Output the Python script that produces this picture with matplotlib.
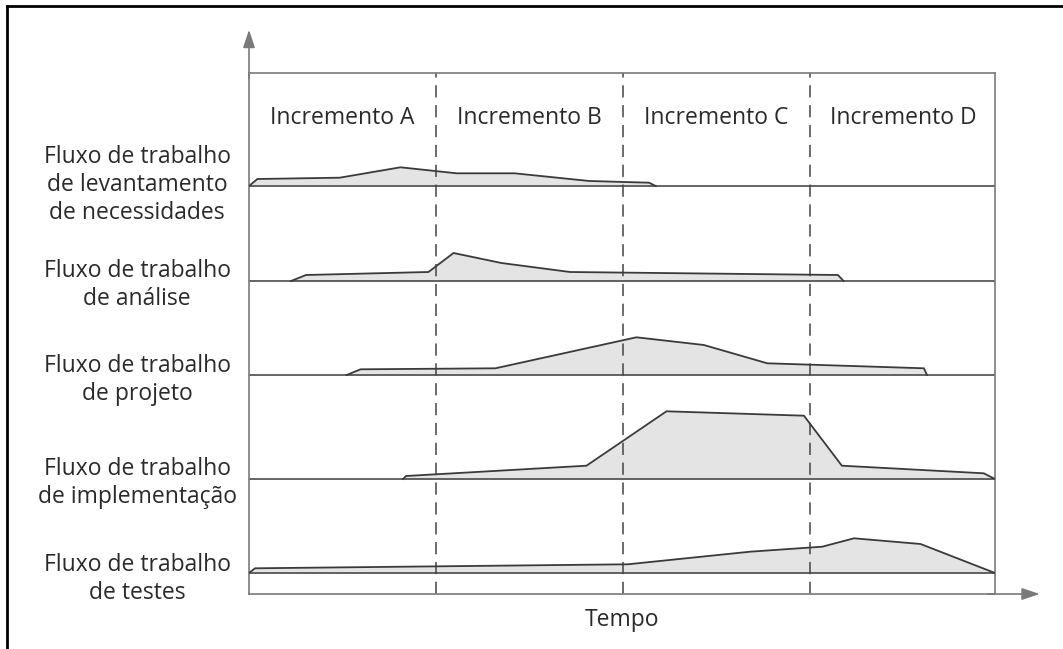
import matplotlib.pyplot as plt
from matplotlib.lines import Line2D
from matplotlib import transforms

plt.rcParams['font.family'] = ['Open Sans', 'DejaVu Sans']

# incrementos (colunas) e fluxos de trabalho (faixas)
incrementos = ['Incremento A', 'Incremento B', 'Incremento C', 'Incremento D']
fluxos = ['Fluxo de trabalho\nde levantamento\nde necessidades',
          'Fluxo de trabalho\nde análise',
          'Fluxo de trabalho\nde projeto',
          'Fluxo de trabalho\nde implementação',
          'Fluxo de trabalho\nde testes']

# perfis de esforço: tempo (em incrementos) e altura acima da linha base
t_req = [0.0, 0.045, 0.485, 0.81, 1.11, 1.42, 1.82, 2.14, 2.175]
h_req = [0, 7, 8.3, 18.7, 12.7, 12.7, 5, 3.3, 0]
t_ana = [0.225, 0.305, 0.96, 1.094, 1.35, 1.717, 3.15, 3.18]
h_ana = [0, 6, 9, 28, 18, 9, 6, 0]
t_proj = [0.522, 0.597, 1.318, 2.072, 2.433, 2.772, 3.61, 3.626]
h_proj = [0, 5.7, 6.7, 37.7, 30, 11.7, 6.7, 0]
t_impl = [0.824, 0.84, 1.805, 2.233, 2.968, 3.171, 3.93, 3.99]
h_impl = [0, 3, 13.3, 67.7, 63.3, 13.3, 5.7, 0]
t_test = [0.0, 0.032, 2.026, 2.68, 3.066, 3.236, 3.592, 3.99]
h_test = [0, 4.7, 8.7, 21.3, 26.3, 34.7, 29, 0]

perfis = [(t_req, h_req), (t_ana, h_ana), (t_proj, h_proj),
          (t_impl, h_impl), (t_test, h_test)]

# linhas base de cada faixa (de cima para baixo)
bases = [408, 313, 219, 115, 21]
desloc_rotulo = [1, -4, -5, -4, -6]

W, H = 1063, 649
fig = plt.figure(figsize=(W / 100, H / 100), dpi=100)
ax = fig.add_axes([249 / W, 55 / H, 746 / W, 521 / H])
ax.set_xlim(0, 3.99)
ax.set_ylim(0, 521)
ax.set_xticks([])
ax.set_yticks([])
for s in ax.spines.values():
    s.set_color('#7a7a7a')
    s.set_linewidth(1.2)

cor_linha = '#3a3a3a'
cor_texto = '#2a2a2a'
for (t, h), b in zip(perfis, bases):
    y = [b + v for v in h]
    ax.fill_between(t, b, y, color='#e4e4e4', lw=0, zorder=1)
    ax.plot(t, y, color=cor_linha, lw=1.3, zorder=3)
    ax.axhline(b, color='#4a4a4a', lw=1.2, zorder=2)

# divisões entre incrementos
for k in range(1, len(incrementos)):
    ax.axvline(k, color='#444444', lw=1.1, dashes=(8, 5), zorder=2)

for k, nome in enumerate(incrementos):
    ax.text(k + 0.5, 476, nome, ha='center', va='center', fontsize=16.5,
            color=cor_texto)

tr = transforms.blended_transform_factory(fig.transFigure, ax.transData)
for nome, b, d in zip(fluxos, bases, desloc_rotulo):
    ax.text(137 / W, b + d, nome, transform=tr, ha='center', va='center',
            multialignment='center', fontsize=16.5, linespacing=1.22,
            color=cor_texto)

ax.text(0.5, -0.05, 'Tempo', transform=ax.transAxes, ha='center',
        va='center', fontsize=16.5, color=cor_texto)

# setas dos eixos
seta = dict(arrowstyle='-|>,head_length=0.9,head_width=0.3',
            color='#7a7a7a', lw=1.2, mutation_scale=12, shrinkA=0, shrinkB=0)
ax.annotate('', xy=(1.06, 0), xytext=(0.99, 0), xycoords='axes fraction',
            arrowprops=seta, annotation_clip=False)
ax.annotate('', xy=(0, 1.083), xytext=(0, 0.99), xycoords='axes fraction',
            arrowprops=seta, annotation_clip=False)

# moldura externa
fig.add_artist(Line2D([7 / W, 1], [1 - 6 / H, 1 - 6 / H], color='black',
                      lw=2, transform=fig.transFigure))
fig.add_artist(Line2D([7 / W, 7 / W], [0, 1 - 6 / H], color='black',
                      lw=2, transform=fig.transFigure))

fig.savefig('out.png', dpi=100)
